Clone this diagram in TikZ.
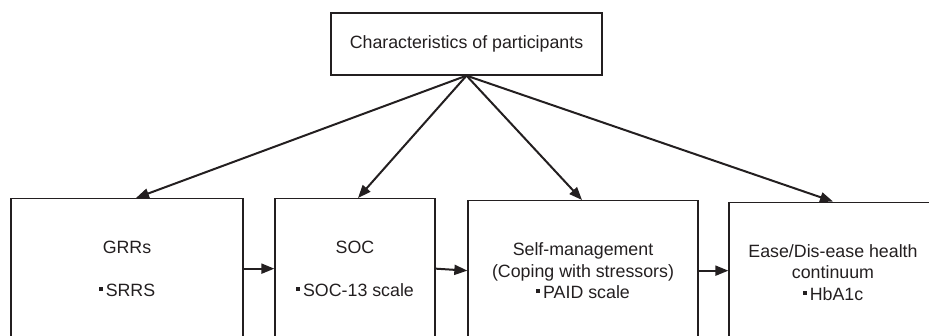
\documentclass[tikz,border=0pt]{standalone}
\usepackage{fontspec}
\setmainfont{Liberation Sans}
\usetikzlibrary{arrows.meta}
\definecolor{ink}{HTML}{231F20}
\newcommand\sqbul{\rule[5.3pt]{4pt}{4pt}\hspace{3pt}}
\tikzset{
  box/.style={draw=ink, line width=1.3pt, text=ink, align=center, inner sep=0pt,
    minimum height=140pt, anchor=north, font=\fontsize{17.8}{21.5}\selectfont},
  topbox/.style={draw=ink, line width=1.3pt, text=ink, align=center, inner sep=0pt,
    minimum width=271pt, minimum height=62pt, font=\fontsize{17.8}{21.5}\selectfont},
  arr/.style={draw=ink, line width=2pt, -{Triangle[length=13pt,width=10pt]}}
}
\begin{document}
\begin{tikzpicture}[x=1pt,y=-1pt]
\useasboundingbox (0,0) rectangle (929,335);
\clip (0,0) rectangle (929,335);
\node[topbox] (char) at (466.5,44) {Characteristics of participants};
\node[box, minimum width=232pt] (b1) at (127,198) {GRRs\\[21.5pt]\sqbul SRRS};
\node[box, minimum width=160pt] (b2) at (355,198) {SOC\\[21.5pt]\sqbul SOC-13 scale};
\node[box, minimum width=230pt] (b3) at (583,200) {Self-management\\(Coping with stressors)\\\sqbul PAID scale};
\node[box, minimum width=208pt] (b4) at (833,201.5) {Ease/Dis-ease health\\continuum\\\sqbul HbA1c};
\draw[arr] (char.south) -- ([xshift=9pt]b1.north);
\draw[arr] (char.south) -- ([xshift=3pt]b2.north);
\draw[arr] (char.south) -- ([xshift=-1pt]b3.north);
\draw[arr] (char.south) -- (b4.north);
\draw[arr] (b1.east) -- (b2.west);
\draw[arr] (b2.east) -- (b3.west);
\draw[arr] (b3.east) -- (b3.east -| b4.west);
\end{tikzpicture}
\end{document}
